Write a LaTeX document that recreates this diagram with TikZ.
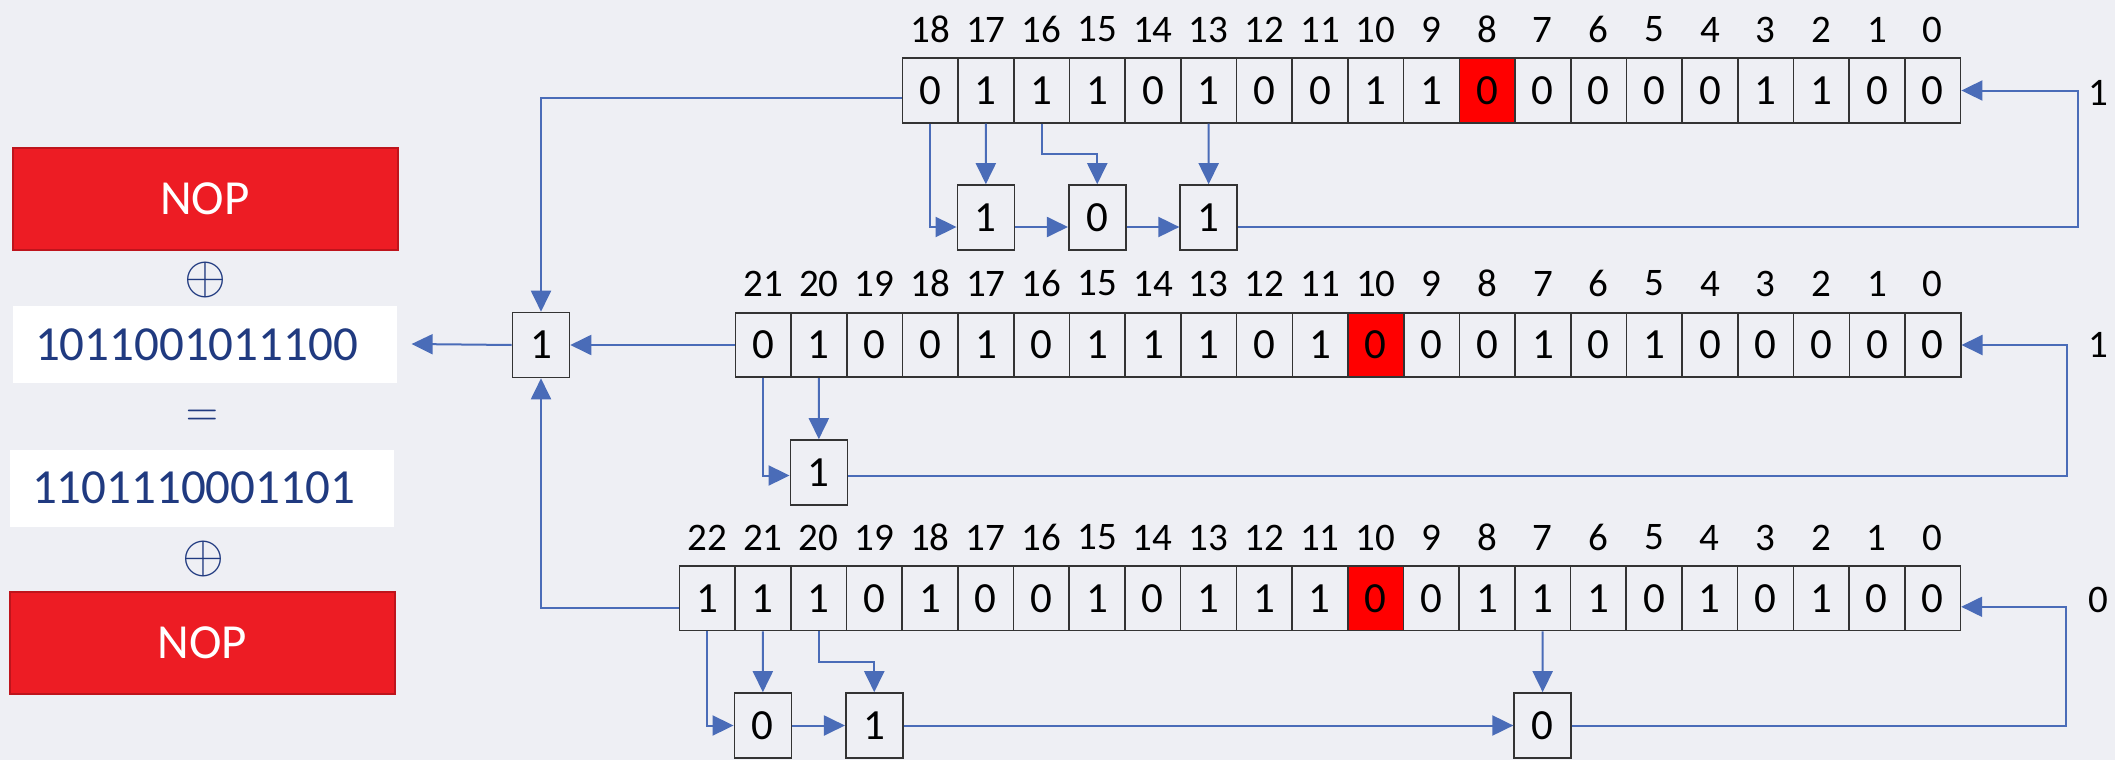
\documentclass[tikz,border=0pt]{standalone}
\usepackage{graphicx}
\usepackage{fontspec}
\setmainfont{Carlito}
\usetikzlibrary{arrows.meta,calc}

\definecolor{bgc}{RGB}{238,239,244}
\definecolor{linkblue}{RGB}{74,108,184}
\definecolor{nopred}{RGB}{237,28,36}
\definecolor{nopedge}{RGB}{190,20,28}
\definecolor{navy}{RGB}{32,58,128}
\definecolor{hot}{RGB}{255,0,0}

\tikzset{
  cell/.style={draw=black!80, line width=1.6pt, fill=bgc,
    minimum width=55.7pt, minimum height=64.5pt, inner sep=0pt,
    font=\fontsize{43}{43}\selectfont},
  bitbox/.style={cell, minimum width=57pt, minimum height=65pt},
  idx/.style={inner sep=0pt, font=\fontsize{39}{39}\selectfont},
  wire/.style={draw=linkblue, line width=2pt},
  arr/.style={wire, -{Triangle[length=21pt,width=20pt]}},
  nop/.style={fill=nopred, draw=nopedge, line width=2pt, text=white,
    minimum width=385pt, minimum height=102pt, inner sep=0pt,
    font=\fontsize{49}{49}\selectfont},
  binbox/.style={fill=white, text=navy, minimum height=77pt, inner ysep=0pt,
    inner xsep=22pt, text width=340pt, align=left,
    font=\fontsize{49}{52}\selectfont},
  op/.style={text=navy, inner sep=0pt},
}
% large, thin-stroked operator signs
\newcommand{\bigxor}{\scalebox{5.4}{$\oplus$}}
\newcommand{\bigeq}{\scalebox{4.2}{$=$}}

\begin{document}
\begin{tikzpicture}[x=1pt,y=-1pt]
\useasboundingbox (0,0) rectangle (2115,760);
\fill[bgc] (0,0) rectangle (2115,760);

% ---- left panel: XOR of the three register outputs
\node[nop] (nop1) at (205,199) {NOP};
\node[op] (xor1) at (205,280) {\bigxor};
\node[binbox, minimum width=384pt] (bin1) at (205,344.5) {1011001011100};
\node[op] (eq) at (202,418) {\bigeq};
\node[binbox, minimum width=384pt] (bin2) at (202,488) {1101110001101};
\node[op] (xor2) at (203,558.5) {\bigxor};
\node[nop] (nop2) at (202.5,643) {NOP};

% ---- register R1 (bits 18..0), clocking bit 8
\foreach \b [count=\i from 0] in {0,1,1,1,0,1,0,0,1,1,0,0,0,0,0,1,1,0,0} {
  \pgfmathtruncatemacro\k{18-\i}
  \ifnum\k=8 \def\fc{hot}\else\def\fc{bgc}\fi
  \node[cell, fill=\fc] (t\k) at ({930.15+55.7*\i},90.5) {\b};
  \node[idx] (tn\k) at ({930.15+55.7*\i},29.5) {\k};
}
% ---- register R2 (bits 21..0), clocking bit 10
\foreach \b [count=\i from 0] in {0,1,0,0,1,0,1,1,1,0,1,0,0,0,1,0,1,0,0,0,0,0} {
  \pgfmathtruncatemacro\k{21-\i}
  \ifnum\k=10 \def\fc{hot}\else\def\fc{bgc}\fi
  \node[cell, fill=\fc] (m\k) at ({763.15+55.7*\i},345) {\b};
  \node[idx] (mn\k) at ({763.15+55.7*\i},283.5) {\k};
}
% ---- register R3 (bits 22..0), clocking bit 10
\foreach \b [count=\i from 0] in {1,1,1,0,1,0,0,1,0,1,1,1,0,0,1,1,1,0,1,0,1,0,0} {
  \pgfmathtruncatemacro\k{22-\i}
  \ifnum\k=10 \def\fc{hot}\else\def\fc{bgc}\fi
  \node[cell, fill=\fc] (b\k) at ({707.15+55.7*\i},598.3) {\b};
  \node[idx] (bn\k) at ({707.15+55.7*\i},537.5) {\k};
}

% ---- feedback taps
\node[bitbox] (q1) at (985.85,217.5) {1};
\node[bitbox] (q2) at (1097.25,217.5) {0};
\node[bitbox] (q3) at (1208.65,217.5) {1};
\node[bitbox] (p1) at (818.85,472.5) {1};
\node[bitbox] (bA) at (762.85,725.5) {0};
\node[bitbox] (bB) at (874.25,725.5) {1};
\node[bitbox] (bC) at (1542.65,725.5) {0};

% ---- combined output bit
\node[bitbox] (out) at (541,345) {1};
\coordinate (outTip) at (411.6,344);

% ---- new input bits
\node[idx] (in1) at (2098,93) {1};
\node[idx] (in2) at (2098,345) {1};
\node[idx] (in3) at (2098,600) {0};

\coordinate (fbT) at (2078.3,150);
\coordinate (fbM) at (2066.7,400);
\coordinate (fbB) at (2066,660);

% R1 taps
\draw[arr] (t18.south) |- ([yshift=-9.5pt]q1.west);
\draw[arr] (t17.south) -- (q1.north);
\draw[arr] (t16.south) |- ($(t16.south)!.5!(q2.north)$) -| (q2.north);
\draw[arr] (t13.south) -- (q3.north);
\draw[arr] ([yshift=-9.5pt]q1.east) -- ([yshift=-9.5pt]q2.west);
\draw[arr] ([yshift=-9.5pt]q2.east) -- ([yshift=-9.5pt]q3.west);
\draw[arr] ([yshift=-9.5pt]q3.east) -| (fbT) |- (t0.east);

% R2 taps
\draw[arr] (m21.south) |- ([yshift=-3pt]p1.west);
\draw[arr] (m20.south) -- (p1.north);
\draw[arr] ([yshift=-3pt]p1.east) -| (fbM) |- (m0.east);

% R3 taps
\draw[arr] (b22.south) |- (bA.west);
\draw[arr] (b21.south) -- (bA.north);
\draw[arr] (b20.south) |- ($(b20.south)!.5!(bB.north)$) -| (bB.north);
\draw[arr] (bA.east) -- (bB.west);
\draw[arr] (bB.east) -- (bC.west);
\draw[arr] (b7.south) -- (bC.north);
\draw[arr] (bC.east) -| (fbB) |- ([yshift=-8.5pt]b0.east);

% outputs into the combiner
\draw[arr] ([yshift=-7.5pt]t18.west) -| (out.north);
\draw[arr] (m21.west) -- (out.east);
\draw[arr] ([yshift=-9.7pt]b22.west) -| (out.south);
\draw[arr] (out.west) -- (outTip);
\end{tikzpicture}
\end{document}
